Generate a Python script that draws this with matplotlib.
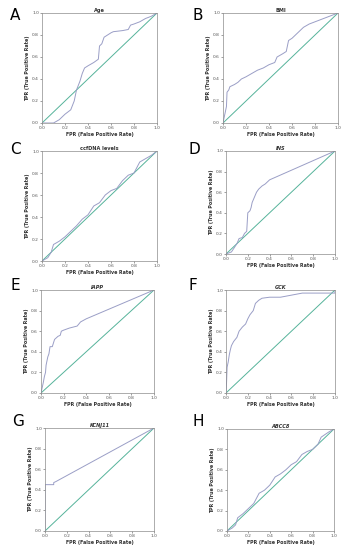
import matplotlib
matplotlib.use("Agg")
import matplotlib.pyplot as plt

# ROC curves (FPR, TPR)
age_fpr = [0, 0.10, 0.15, 0.20, 0.25, 0.28, 0.30, 0.33, 0.35, 0.37, 0.40, 0.45, 0.49, 0.50, 0.52, 0.54, 0.57, 0.60, 0.62, 0.70, 0.75, 0.77, 0.80, 0.85, 0.90, 0.95, 1.0]
age_tpr = [0, 0.00, 0.03, 0.08, 0.12, 0.20, 0.30, 0.38, 0.45, 0.50, 0.52, 0.55, 0.58, 0.70, 0.72, 0.78, 0.80, 0.82, 0.83, 0.84, 0.85, 0.89, 0.90, 0.92, 0.95, 0.97, 1.0]

bmi_fpr = [0, 0.01, 0.02, 0.03, 0.035, 0.05, 0.06, 0.10, 0.13, 0.16, 0.20, 0.25, 0.30, 0.35, 0.40, 0.45, 0.47, 0.52, 0.55, 0.57, 0.60, 0.65, 0.70, 0.75, 0.80, 0.90, 0.95, 1.0]
bmi_tpr = [0, 0.05, 0.10, 0.15, 0.28, 0.30, 0.33, 0.35, 0.37, 0.40, 0.42, 0.45, 0.48, 0.50, 0.53, 0.55, 0.60, 0.63, 0.65, 0.75, 0.77, 0.82, 0.87, 0.90, 0.92, 0.96, 0.98, 1.0]

ccf_fpr = [0, 0.05, 0.08, 0.10, 0.15, 0.20, 0.25, 0.30, 0.35, 0.40, 0.45, 0.50, 0.55, 0.60, 0.65, 0.70, 0.75, 0.80, 0.85, 0.90, 0.95, 1.0]
ccf_tpr = [0, 0.03, 0.08, 0.15, 0.18, 0.22, 0.27, 0.32, 0.38, 0.42, 0.50, 0.53, 0.60, 0.64, 0.66, 0.73, 0.78, 0.80, 0.90, 0.93, 0.96, 1.0]

ins_fpr = [0, 0.05, 0.10, 0.12, 0.15, 0.17, 0.19, 0.20, 0.22, 0.23, 0.24, 0.26, 0.28, 0.30, 0.33, 0.36, 0.40, 1.0]
ins_tpr = [0, 0.02, 0.10, 0.15, 0.16, 0.20, 0.22, 0.40, 0.42, 0.45, 0.50, 0.55, 0.60, 0.63, 0.66, 0.68, 0.72, 1.0]

iapp_fpr = [0, 0.01, 0.02, 0.03, 0.04, 0.045, 0.06, 0.07, 0.08, 0.10, 0.12, 0.15, 0.17, 0.18, 0.20, 0.25, 0.32, 0.35, 0.40, 1.0]
iapp_tpr = [0, 0.05, 0.10, 0.16, 0.20, 0.27, 0.35, 0.38, 0.45, 0.45, 0.52, 0.55, 0.56, 0.60, 0.61, 0.63, 0.65, 0.69, 0.72, 1.0]

gck_fpr = [0, 0.005, 0.01, 0.02, 0.03, 0.04, 0.05, 0.07, 0.10, 0.12, 0.15, 0.18, 0.20, 0.22, 0.25, 0.27, 0.30, 0.33, 0.40, 0.50, 0.55, 0.60, 0.65, 0.70, 1.0, 1.0]
gck_tpr = [0, 0.10, 0.25, 0.30, 0.37, 0.42, 0.46, 0.50, 0.54, 0.60, 0.64, 0.67, 0.72, 0.76, 0.80, 0.87, 0.90, 0.92, 0.93, 0.93, 0.94, 0.95, 0.96, 0.97, 0.97, 1.0]

kcnj_fpr = [0, 0, 0.08, 0.08, 0.10, 1.0]
kcnj_tpr = [0, 0.45, 0.45, 0.47, 0.48, 1.0]

abcc_fpr = [0, 0.05, 0.08, 0.10, 0.15, 0.20, 0.25, 0.30, 0.35, 0.40, 0.45, 0.50, 0.55, 0.60, 0.65, 0.70, 0.75, 0.80, 0.85, 0.88, 0.95, 1.0]
abcc_tpr = [0, 0.03, 0.06, 0.13, 0.17, 0.22, 0.27, 0.37, 0.40, 0.45, 0.53, 0.56, 0.60, 0.65, 0.68, 0.75, 0.78, 0.80, 0.85, 0.92, 0.97, 1.0]

letters = ["A", "B", "C", "D", "E", "F", "G", "H"]
titles = ["Age", "BMI", "ccfDNA levels", "INS", "IAPP", "GCK", "KCNJ11", "ABCC8"]
italic = [False, False, False, True, True, True, True, True]
curves = [(age_fpr, age_tpr), (bmi_fpr, bmi_tpr), (ccf_fpr, ccf_tpr), (ins_fpr, ins_tpr),
          (iapp_fpr, iapp_tpr), (gck_fpr, gck_tpr), (kcnj_fpr, kcnj_tpr), (abcc_fpr, abcc_tpr)]

# axes boxes in pixels: left, top, right, bottom
boxes = [(42, 13, 157, 123), (223, 13, 338, 123),
         (42, 151, 157, 261), (226, 151, 335, 254),
         (41, 290, 154, 393), (226, 290, 335, 393),
         (45, 428, 154, 531), (227, 429, 334, 531)]
letter_pos = [(10, 15), (192, 15), (10, 150), (188, 150),
              (10, 286), (188, 286), (12, 422), (192, 422)]

W, H = 342, 550
fig = plt.figure(figsize=(W / 100, H / 100), dpi=100)

curve_color = "#9a9ec6"
diag_color = "#55b39a"
frame_color = "#8c8c8c"

for i in range(8):
    l, t, r, b = boxes[i]
    ax = fig.add_axes([l / W, 1 - b / H, (r - l) / W, (b - t) / H])
    fpr, tpr = curves[i]
    ax.plot([0, 1], [0, 1], color=diag_color, lw=0.7)
    ax.plot(fpr, tpr, color=curve_color, lw=0.7)
    ax.set_xlim(0, 1)
    ax.set_ylim(0, 1)
    ticks = [0, 0.2, 0.4, 0.6, 0.8, 1.0]
    ax.set_xticks(ticks)
    ax.set_yticks(ticks)
    ax.set_xticklabels(["0.0", "0.2", "0.4", "0.6", "0.8", "1.0"])
    ax.set_yticklabels(["0.0", "0.2", "0.4", "0.6", "0.8", "1.0"])
    ax.tick_params(labelsize=3.2, length=1.2, width=0.4, pad=1, colors="#555555")
    for s in ax.spines.values():
        s.set_color(frame_color)
        s.set_linewidth(0.5)
    ax.set_title(titles[i], fontsize=3.6, fontweight="bold", pad=1,
                 style="italic" if italic[i] else "normal", color="#333333")
    ax.set_xlabel("FPR (False Positive Rate)", fontsize=3.4, fontweight="bold",
                  labelpad=1.5, color="#333333")
    ax.set_ylabel("TPR (True Positive Rate)", fontsize=3.4, fontweight="bold",
                  labelpad=1.5, color="#333333")
    lx, ly = letter_pos[i]
    fig.text(lx / W, 1 - ly / H, letters[i], fontsize=11, ha="left", va="center")

fig.savefig("out.png", dpi=100)
